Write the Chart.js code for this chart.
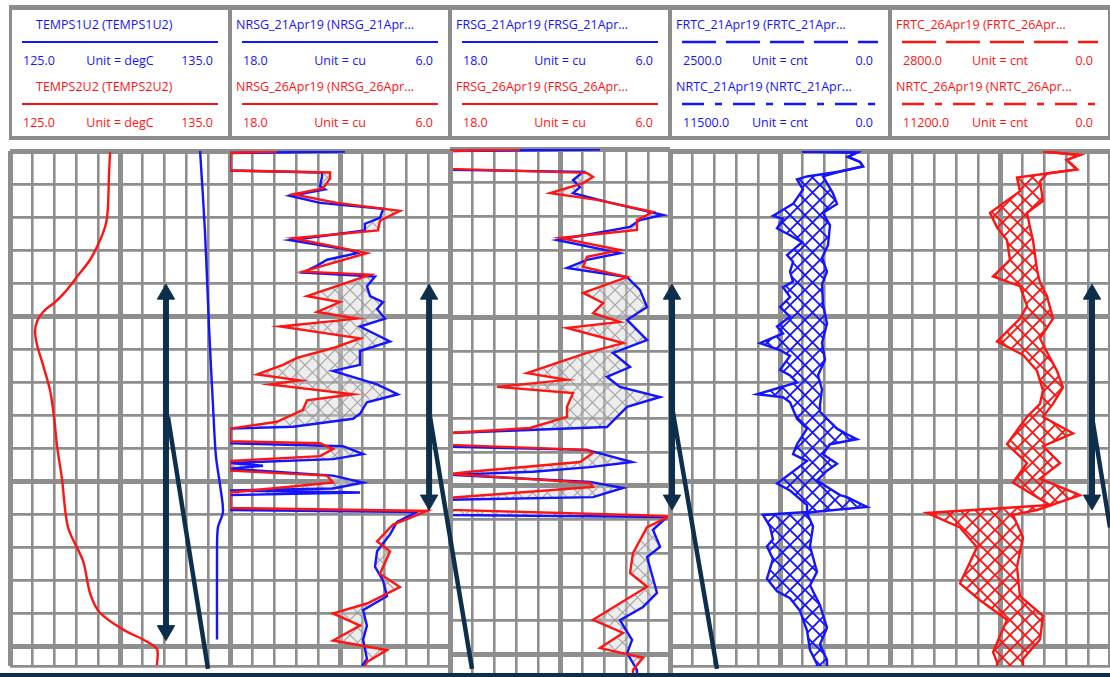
<!DOCTYPE html>
<html>
<head>
<meta charset="utf-8">
<script src="https://cdn.jsdelivr.net/npm/chart.js"></script>
<style>
  body { margin: 0; width: 1110px; height: 677px; overflow: hidden; background: #fff; position: relative; font-family: 'Open Sans', sans-serif; }
  #frame { position: absolute; left: 9px; top: 5px; width: 1110px; height: 135px; background: #8c8c8c; }
  .box { position: absolute; top: 10px; height: 126px; width: 216px; background: #fff; }
  .txt { position: absolute; font-size: 12.5px; line-height: 16px; white-space: nowrap; }
  canvas.track { position: absolute; top: 140px; }
  #base { position: absolute; left: 0; top: 673px; width: 1110px; height: 4px; background: #0e2f4c; z-index: 20; }
</style>
</head>
<body>
<div id="frame"></div>
<div id="base"></div>
<script>
const blue = '#1414ff', red = '#ff1414', navy = '#0e2f4c', gridGray = '#8e8e8e';

// depth in ft below the top of the shown interval, 10 ft per grid line
const depthTop = 0, depthBottom = 155.8;

// header of each track: first and second curve
const curveNames = [
  ['TEMPS1U2 (TEMPS1U2)', 'TEMPS2U2 (TEMPS2U2)'],
  ['NRSG_21Apr19 (NRSG_21Apr...', 'NRSG_26Apr19 (NRSG_26Apr...'],
  ['FRSG_21Apr19 (FRSG_21Apr...', 'FRSG_26Apr19 (FRSG_26Apr...'],
  ['FRTC_21Apr19 (FRTC_21Apr...', 'NRTC_21Apr19 (NRTC_21Apr...'],
  ['FRTC_26Apr19 (FRTC_26Apr...', 'NRTC_26Apr19 (NRTC_26Apr...']
];
const scaleLeft = [[125, 125], [18, 18], [18, 18], [2500, 11500], [2800, 11200]];
const scaleRight = [[135, 135], [6, 6], [6, 6], [0, 0], [0, 0]];
const units = ['degC', 'cu', 'cu', 'cnt', 'cnt'];

// track 1 - temperature
const temps1Depth = [0, 24.0, 53.7, 77.4, 92.3, 101.2, 109.2, 113.9, 121.9, 147.8];
const temps1 = [133.64, 133.86, 134.05, 134.23, 134.36, 134.55, 134.68, 134.45, 134.41, 134.41];
const temps2Depth = [0.3, 7.1, 17.2, 22.0, 27.0, 32.9, 38.0, 42.7, 45.7, 48.7, 51.6, 54.6, 58.7, 64.7, 72.4, 80.4, 89.3, 99.1, 113.9, 124.0, 133.8, 139.7, 144.8, 147.8, 150.7, 155.5];
const temps2 = [129.55, 129.5, 129.45, 129.36, 129.09, 128.64, 128.05, 127.5, 127.05, 126.5, 126.23, 126.14, 126.23, 126.5, 126.82, 127.0, 127.14, 127.36, 127.64, 128.32, 128.64, 129.09, 130.14, 131.05, 131.68, 131.68];

// track 2 - NRSG
const nrsg21Depth = [0.15, 0.6, 5.9, 6.5, 7.7, 10.7, 11.6, 13.6, 15.7, 17.5, 20.2, 22.0, 24.0, 27.0, 30.0, 30.9, 32.9, 35.0, 36.8, 38.0, 40.9, 43.9, 45.7, 47.8, 50.7, 53.1, 57.6, 60.5, 64.7, 66.5, 70.6, 73.6, 76.0, 79.5, 81.0, 83.4, 84.0, 88.4, 89.3, 91.7, 93.2, 94.4, 95.2, 96.1, 98.2, 100.3, 102.1, 102.7, 103.3, 104.1, 108.6, 109.2, 112.2, 116.0, 121.1, 125.8, 130.0, 134.7, 138.9, 143.6, 147.8, 153.7, 155.8];
const nrsg21 = [11.73, 18, 18, 12.98, 12.98, 13.09, 12.82, 14.73, 13.09, 9.65, 9.82, 10.64, 10.64, 14.73, 11.45, 11.07, 12.71, 13.36, 14.02, 10.09, 10.53, 10.36, 9.65, 9.98, 9.54, 10.91, 9.27, 10.91, 10.91, 12.38, 9.98, 8.84, 10.53, 10.91, 11.29, 14.56, 18, 18, 11.84, 10.74, 12.38, 18, 16.2, 18, 12.38, 10.74, 12.38, 18, 10.91, 18, 18, 7.80, 8.89, 9.27, 9.98, 10.09, 9.65, 9.44, 10.74, 10.53, 10.74, 10.53, 10.8];
const nrsg26Depth = [0.15, 0.6, 5.9, 6.5, 8.3, 11.3, 13.1, 15.7, 18.1, 21.1, 24.0, 26.4, 30.9, 35.0, 36.5, 37.4, 39.8, 43.9, 45.7, 48.7, 50.7, 53.1, 56.7, 59.6, 62.6, 64.7, 67.6, 69.4, 70.6, 73.6, 75.4, 78.3, 81.9, 84.0, 87.8, 88.4, 90.2, 92.3, 93.8, 96.7, 98.2, 100.3, 103.3, 108.0, 108.9, 111.0, 113.0, 118.1, 121.1, 127.9, 131.9, 136.9, 139.9, 143.6, 148.1, 151.0, 154.6, 155.8];
const nrsg26 = [15.44, 18, 18, 12.54, 12.54, 12.93, 14.56, 12.16, 8.73, 9.82, 9.93, 14.56, 10.53, 13.09, 14.02, 10.36, 11.62, 13.8, 12.0, 13.25, 11.07, 15.27, 10.91, 12.38, 14.35, 15.11, 16.53, 14.18, 15.82, 11.29, 13.8, 14.02, 15.44, 18, 18, 13.09, 12.38, 13.09, 18, 18, 12.71, 12.38, 18, 18, 7.25, 8.18, 9.11, 9.98, 9.27, 9.82, 8.73, 10.53, 12.38, 10.91, 12.38, 9.44, 10.53, 10.64];

// track 3 - FRSG
const frsg21Depth = [0.15, 0.6, 6.2, 6.8, 9.2, 11.3, 13.1, 15.7, 19.6, 21.1, 23.1, 27.0, 30.9, 32.9, 35.3, 38.0, 41.8, 46.9, 50.7, 56.7, 60.5, 64.7, 67.6, 70.6, 73.6, 76.5, 82.5, 84.3, 88.4, 89.3, 92.9, 94.4, 95.8, 96.7, 98.8, 100.6, 103.3, 104.1, 108.6, 109.2, 113.0, 118.1, 121.1, 131.7, 135.9, 139.8, 145.7, 149.6, 154.6, 155.8];
const frsg21 = [9.82, 18, 18, 10.74, 11.29, 10.91, 11.29, 9.44, 6.38, 7.64, 8.18, 12.16, 8.73, 10.53, 11.62, 8.34, 7.64, 7.25, 8.34, 7.25, 9.11, 8.18, 9.44, 8.73, 6.54, 8.34, 9.44, 18, 18, 10.53, 8.07, 10.36, 13.47, 18, 10.36, 8.56, 10.2, 18, 18, 6.16, 6.93, 6.54, 7.25, 6.71, 7.47, 8.73, 8.07, 8.34, 7.8, 7.8];
const frsg26Depth = [0.15, 0.6, 5.9, 7.1, 8.3, 10.1, 13.1, 15.1, 18.7, 21.1, 24.0, 26.4, 30.0, 32.0, 35.0, 38.0, 42.7, 45.7, 48.7, 51.3, 53.1, 57.6, 60.5, 63.5, 66.5, 68.5, 70.6, 72.4, 76.5, 79.5, 82.8, 84.3, 87.8, 89.3, 90.2, 92.9, 95.8, 96.4, 99.1, 100.3, 103.5, 107.1, 108.9, 112.2, 119.9, 125.8, 129.9, 139.7, 143.6, 148.1, 151.0, 154.6, 155.8];
const frsg26 = [14.18, 18, 18, 10.53, 10.2, 10.74, 12.54, 9.98, 6.93, 7.8, 7.8, 12.0, 8.73, 10.53, 10.74, 8.34, 10.74, 9.65, 10.2, 8.73, 11.62, 8.56, 10.53, 12.16, 13.8, 11.62, 15.44, 11.29, 11.62, 11.62, 13.64, 18, 18, 10.53, 10.2, 10.91, 16.91, 18, 10.36, 10.2, 18, 18, 6.0, 7.25, 8.02, 8.18, 7.25, 10.2, 8.56, 9.82, 7.47, 8.02, 8.02];

// track 4 - count rates 21 Apr
const frtc21Depth = [0.15, 0.45, 1.8, 3.3, 4.7, 6.2, 7.7, 8.6, 11.6, 16.0, 19.6, 20.5, 23.4, 25.5, 27.6, 31.5, 33.5, 36.5, 39.5, 41.2, 44.2, 47.2, 50.1, 53.1, 55.2, 58.1, 60.2, 62.0, 66.2, 67.9, 70.0, 73.6, 74.5, 76.0, 81.0, 84.0, 88.7, 91.7, 93.8, 100.6, 102.7, 107.1, 109.2, 110.1, 113.6, 117.5, 119.6, 123.4, 129.4, 133.2, 135.3, 139.1, 145.1, 151.0, 155.2, 155.8];
const frtc21 = [1000, 375, 477, 341, 307, 568, 943, 1057, 989, 1102, 1330, 1216, 1284, 1136, 1000, 1170, 1102, 1136, 1102, 1216, 1136, 1250, 1136, 1284, 1216, 1477, 1250, 1136, 1250, 1136, 1057, 1511, 1216, 1136, 1057, 943, 1057, 1102, 943, 1284, 1136, 943, 943, 1443, 1364, 1330, 1398, 1330, 1398, 1284, 1136, 1023, 943, 909, 830, 830];
const nrtc21Depth = [0.15, 0.45, 1.8, 3.3, 4.7, 6.2, 7.7, 12.8, 16.0, 18.7, 22.5, 28.5, 32.3, 36.5, 40.4, 46.3, 52.2, 58.1, 63.2, 67.9, 72.1, 76.8, 78.9, 84.0, 85.7, 87.2, 88.7, 91.7, 94.6, 96.7, 99.7, 104.1, 104.7, 107.7, 109.2, 109.5, 113.6, 119.6, 127.3, 131.4, 137.4, 144.2, 149.3, 154.0, 155.8];
const nrtc21 = [4600, 1726, 2196, 1569, 1412, 2614, 3503, 2980, 2771, 3503, 3137, 3241, 3555, 3294, 3555, 3503, 3294, 3555, 3398, 3764, 3555, 3659, 3659, 2771, 2248, 1726, 3137, 3503, 2771, 3294, 3816, 2614, 2248, 1203, 4025, 4339, 4025, 4182, 3816, 4182, 3659, 3294, 3659, 3294, 3294];

// track 5 - count rates 26 Apr
const frtc26Depth = [0.15, 1.2, 2.7, 5.6, 6.8, 8.0, 12.2, 18.7, 23.1, 27.0, 32.9, 38.0, 40.9, 46.9, 50.7, 57.6, 61.7, 66.5, 72.4, 76.5, 80.4, 88.7, 94.4, 100.3, 107.1, 109.5, 113.9, 119.9, 130.8, 135.9, 141.8, 151.6, 154.6, 155.8];
const frtc26 = [853, 382, 547, 420, 802, 1184, 1145, 1527, 1438, 1311, 1273, 1489, 1145, 1056, 1145, 1438, 1107, 929, 853, 891, 1056, 1311, 1056, 1235, 764, 2329, 1909, 1693, 1909, 1655, 1311, 1489, 1438, 1438];
const nrtc26Depth = [0.15, 1.2, 2.7, 5.6, 6.8, 9.2, 15.1, 18.7, 23.1, 27.0, 35.9, 39.8, 43.9, 50.7, 56.7, 62.6, 66.5, 71.5, 76.5, 80.4, 85.4, 89.3, 94.4, 99.1, 104.1, 108.6, 110.1, 116.9, 125.8, 134.7, 140.6, 147.8, 153.7, 155.8];
const nrtc26 = [3411, 1527, 2214, 1680, 3207, 3563, 3411, 4225, 4073, 3920, 3716, 3563, 3207, 2902, 3563, 3054, 2698, 2393, 2902, 3411, 1883, 3411, 2545, 3563, 1527, 3716, 4938, 4429, 4734, 4582, 3411, 3563, 4429, 4429];

// interpretation marks, in the scale of each track's first curve
const arrow1Depth = [43.3, 145.1], arrow1Value = [132.09, 132.09];
const diag1Depth = [80.4, 156.7], diag1Value = [132.18, 134.0];
const arrow2Depth = [43.3, 105.6], arrow2Value = [7.14, 7.14];
const diag2Depth = [80.4, 156.7], diag2Value = [7.09, 4.8];
const arrow4Depth = [43.3, 105.6], arrow4Value = [2477, 2477];
const diag4Depth = [77.4, 156.7], diag4Value = [2477, 1966];
const arrow5Depth = [43.3, 105.6], arrow5Value = [229, 229];
const diag5Depth = [80.4, 113.9], diag5Value = [229, 0];

const pts = (d, v) => d.map((y, i) => ({ x: v[i], y: y }));

function hatch(line, back, size, width) {
  const tile = document.createElement('canvas');
  tile.width = tile.height = size;
  const g = tile.getContext('2d');
  if (back) { g.fillStyle = back; g.fillRect(0, 0, size, size); }
  g.strokeStyle = line;
  g.lineWidth = width;
  g.beginPath();
  g.moveTo(-1, -1); g.lineTo(size + 1, size + 1);
  g.moveTo(size + 1, -1); g.lineTo(-1, size + 1);
  g.stroke();
  return g.createPattern(tile, 'repeat');
}

const tracks = [
  { curves: [[temps1Depth, temps1], [temps2Depth, temps2]], colors: [blue, red], tension: 0.3,
    marks: [[arrow1Depth, arrow1Value], [diag1Depth, diag1Value]] },
  { curves: [[nrsg21Depth, nrsg21], [nrsg26Depth, nrsg26]], colors: [blue, red],
    fill: hatch('rgba(140,140,140,0.75)', 'rgba(215,215,215,0.45)', 15, 1.2),
    marks: [[arrow2Depth, arrow2Value], [diag2Depth, diag2Value]] },
  { curves: [[frsg21Depth, frsg21], [frsg26Depth, frsg26]], colors: [blue, red],
    fill: hatch('rgba(140,140,140,0.75)', 'rgba(215,215,215,0.45)', 15, 1.2), marks: [] },
  { curves: [[frtc21Depth, frtc21], [nrtc21Depth, nrtc21]], colors: [blue, blue],
    fill: hatch(blue, null, 15, 1.8), marks: [[arrow4Depth, arrow4Value], [diag4Depth, diag4Value]] },
  { curves: [[frtc26Depth, frtc26], [nrtc26Depth, nrtc26]], colors: [red, red],
    fill: hatch(red, null, 15, 1.8), marks: [[arrow5Depth, arrow5Value], [diag5Depth, diag5Value]] }
];

// header boxes
function addText(parent, text, color, css) {
  const el = document.createElement('div');
  el.className = 'txt';
  el.textContent = text;
  el.style.color = color;
  Object.assign(el.style, css);
  parent.appendChild(el);
}
tracks.forEach((t, k) => {
  const box = document.createElement('div');
  box.className = 'box';
  box.style.left = (12 + 220 * k) + 'px';
  document.body.appendChild(box);
  [0, 1].forEach(i => {
    const y0 = i * 62, color = t.colors[i];
    addText(box, curveNames[k][i], color, { left: (k === 0 ? 24 : 4) + 'px', top: (y0 + 7) + 'px' });
    const dash = k < 3 ? '' : (i === 0 ? '34 10' : '22 11 7 11');
    const svg = document.createElementNS('http://www.w3.org/2000/svg', 'svg');
    svg.setAttribute('width', 196);
    svg.setAttribute('height', 4);
    svg.style.position = 'absolute';
    svg.style.left = '10px';
    svg.style.top = (y0 + 30) + 'px';
    svg.innerHTML = '<line x1="0" y1="2" x2="196" y2="2" stroke="' + color + '" stroke-width="' +
      (dash ? 2.6 : 2) + '" stroke-dasharray="' + dash + '"/>';
    box.appendChild(svg);
    addText(box, scaleLeft[k][i].toFixed(1), color, { left: '11px', top: (y0 + 43) + 'px' });
    addText(box, 'Unit = ' + units[k], color, { left: '0', width: '216px', textAlign: 'center', top: (y0 + 43) + 'px' });
    addText(box, scaleRight[k][i].toFixed(1), color, { right: '15px', top: (y0 + 43) + 'px' });
  });
});

// track plots
const M = 30;
const zOrder = [1, 3, 2, 4, 5];
tracks.forEach((t, k) => {
  const cv = document.createElement('canvas');
  cv.className = 'track';
  cv.width = 220 + 2 * M;
  cv.height = 537;
  cv.style.left = (10 + 220 * k - M) + 'px';
  cv.style.zIndex = zOrder[k];
  document.body.appendChild(cv);

  const scales = {
    y: {
      type: 'linear', min: depthTop, max: depthBottom, reverse: true,
      ticks: { display: false, stepSize: 10 },
      grid: { drawTicks: false, color: gridGray, lineWidth: c => (c.tick.value % 50 === 0 ? 5 : 2.8) },
      border: { display: false }
    },
    x: {
      type: 'linear', position: 'bottom', min: 0, max: 10,
      ticks: { display: false, stepSize: 1 },
      grid: { drawTicks: false, color: gridGray, lineWidth: c => (c.tick.value % 5 === 0 ? 5 : 2.6) },
      border: { display: false }
    }
  };
  const datasets = [];
  t.curves.forEach((c, i) => {
    const lo = scaleLeft[k][i], hi = scaleRight[k][i];
    scales['a' + i] = { type: 'linear', display: false, min: Math.min(lo, hi), max: Math.max(lo, hi), reverse: lo > hi };
    datasets.push({
      data: pts(c[0], c[1]),
      xAxisID: 'a' + i,
      borderColor: t.colors[i],
      borderWidth: 2.4,
      pointRadius: 0,
      tension: t.tension || 0,
      backgroundColor: t.fill || 'transparent',
      fill: (i === 1 && t.fill) ? '-1' : false,
      order: 2 - i
    });
  });
  t.marks.forEach((m, j) => {
    const arrow = j === 0;
    datasets.push({
      data: pts(m[0], m[1]),
      xAxisID: 'a0',
      borderColor: navy,
      borderWidth: arrow ? 6 : 4.5,
      pointStyle: 'triangle',
      pointRadius: arrow ? 10 : 0,
      pointRotation: [0, 180],
      pointBackgroundColor: navy,
      pointBorderColor: navy,
      pointBorderWidth: 1,
      fill: false,
      clip: false,
      order: -1
    });
  });

  new Chart(cv, {
    type: 'line',
    data: { datasets },
    options: {
      indexAxis: 'y',
      responsive: false,
      animation: false,
      events: [],
      layout: { padding: { left: M, right: M, top: 9, bottom: 3 } },
      scales,
      plugins: {
        legend: { display: false },
        tooltip: { enabled: false },
        filler: { drawTime: 'beforeDatasetsDraw' }
      }
    }
  });
});
</script>
</body>
</html>
